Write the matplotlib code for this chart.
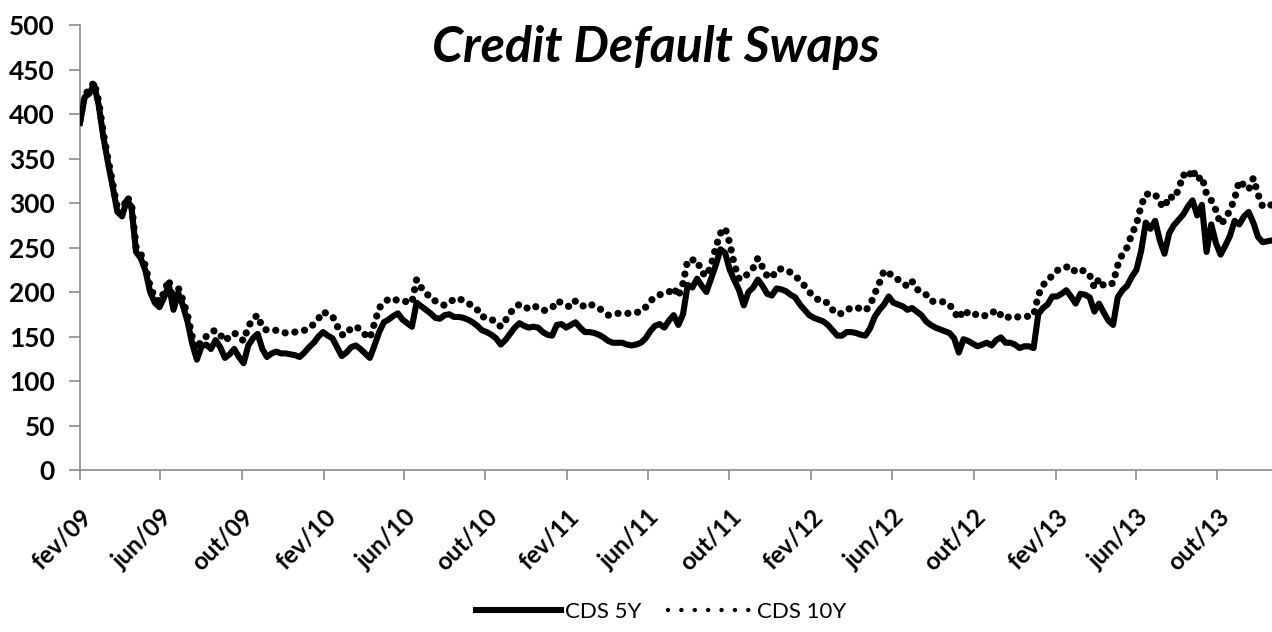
import matplotlib
matplotlib.use("Agg")
import matplotlib.pyplot as plt
import matplotlib.transforms as mtransforms
import pandas as pd
from matplotlib.lines import Line2D

plt.rcParams['font.family'] = ['Lato', 'DejaVu Sans']

title = "Credit Default Swaps"
series_names = ["CDS 5Y", "CDS 10Y"]
start_date = "2009-02-01"
tick_labels = ["fev/09", "jun/09", "out/09", "fev/10", "jun/10", "out/10",
               "fev/11", "jun/11", "out/11", "fev/12", "jun/12", "out/12",
               "fev/13", "jun/13", "out/13"]

# weekly observations starting 2009-02-01
cds5 = [390, 419, 423, 433, 410, 374, 345, 318, 290, 285, 303, 296, 245, 238, 224, 200,
        188, 183, 194, 208, 180, 199, 185, 167, 142, 124, 139, 141, 136, 146, 138, 126,
        130, 136, 127, 120, 140, 148, 153, 136, 127, 131, 133, 131, 131, 130, 129, 127,
        132, 138, 143, 150, 155, 151, 148, 138, 128, 132, 138, 140, 136, 131, 126, 140,
        155, 166, 169, 173, 176, 169, 165, 161, 188, 184, 180, 176, 171, 170, 174, 175,
        172, 172, 171, 169, 166, 162, 157, 155, 152, 148, 141, 146, 153, 160, 165, 162,
        160, 161, 160, 155, 152, 151, 163, 164, 160, 163, 166, 160, 155, 155, 154, 152,
        149, 145, 143, 143, 143, 141, 140, 141, 143, 148, 156, 162, 164, 160, 168, 174,
        163, 175, 208, 205, 215, 207, 200, 215, 230, 248, 244, 225, 213, 202, 185, 200,
        205, 214, 207, 198, 196, 204, 203, 201, 197, 194, 186, 180, 174, 171, 169, 167,
        163, 157, 151, 151, 155, 155, 154, 152, 151, 159, 172, 180, 186, 195, 188, 186,
        184, 180, 182, 178, 174, 167, 163, 160, 158, 156, 154, 148, 132, 147, 145, 142,
        139, 141, 143, 140, 146, 149, 143, 143, 141, 137, 139, 139, 137, 175, 182, 186,
        195, 195, 198, 202, 195, 187, 198, 197, 194, 178, 187, 177, 168, 163, 194, 202,
        207, 217, 225, 246, 278, 271, 280, 258, 243, 266, 275, 281, 287, 296, 303, 286,
        298, 245, 276, 255, 242, 252, 263, 280, 276, 285, 290, 278, 262, 256, 257, 258]

cds10 = [393, 422, 427, 436, 414, 378, 349, 322, 294, 289, 307, 300, 250, 243, 229, 206,
         194, 189, 200, 214, 187, 205, 191, 174, 150, 136, 146, 150, 155, 157, 152, 145,
         150, 154, 150, 145, 161, 170, 174, 160, 157, 157, 157, 155, 154, 155, 155, 156,
         157, 159, 164, 170, 178, 175, 173, 162, 152, 152, 160, 161, 158, 152, 148, 165,
         182, 188, 192, 193, 190, 190, 189, 188, 214, 205, 200, 192, 190, 187, 185, 188,
         192, 193, 190, 187, 185, 180, 172, 172, 169, 167, 161, 168, 176, 183, 186, 182,
         182, 185, 182, 179, 180, 182, 190, 188, 185, 183, 190, 185, 184, 187, 184, 182,
         178, 174, 175, 176, 176, 176, 176, 177, 178, 183, 190, 194, 197, 198, 200, 205,
         195, 210, 236, 236, 236, 222, 218, 230, 250, 266, 272, 255, 230, 215, 215, 222,
         227, 238, 228, 218, 216, 225, 226, 225, 222, 218, 213, 207, 200, 195, 191, 191,
         187, 180, 175, 176, 180, 182, 183, 181, 179, 185, 198, 210, 224, 222, 216, 214,
         211, 206, 212, 203, 201, 197, 190, 189, 189, 189, 186, 178, 170, 180, 176, 173,
         176, 174, 173, 176, 180, 174, 170, 173, 172, 172, 172, 173, 174, 196, 208, 212,
         219, 224, 227, 228, 229, 222, 224, 224, 219, 205, 215, 207, 208, 210, 230, 243,
         250, 265, 276, 297, 310, 310, 310, 300, 295, 308, 305, 315, 332, 328, 338, 326,
         330, 310, 303, 292, 276, 282, 292, 305, 325, 320, 315, 328, 310, 296, 297, 298]

dates = pd.date_range(start_date, periods=len(cds5), freq="7D")
tick_dates = pd.date_range(start_date, periods=len(tick_labels), freq="4MS")

fig = plt.figure(figsize=(12.72, 6.32), dpi=100)
ax = fig.add_axes([0.0629, 0.2563, 0.9371, 0.7041])

ax.plot(dates, cds10, color="black", lw=5.2, dashes=(0.01, 1.35),
        dash_capstyle="round", solid_capstyle="round", zorder=2)
ax.plot(dates, cds5, color="black", lw=4.4, solid_joinstyle="round", zorder=3)

ax.set_ylim(0, 500)
ax.set_xlim(dates[0], dates[-1])
ax.set_yticks(range(0, 501, 50))
ax.set_xticks(tick_dates)
ax.set_xticklabels(tick_labels, rotation=45, ha="right", va="top",
                   rotation_mode="anchor", fontsize=17.5, fontweight="bold")
offset = mtransforms.ScaledTranslation(6 / 100, 0, fig.dpi_scale_trans)
for lab in ax.get_xticklabels():
    lab.set_transform(lab.get_transform() + offset)
for lab in ax.get_yticklabels():
    lab.set_fontsize(19)
    lab.set_fontweight("bold")

for s in ["top", "right"]:
    ax.spines[s].set_visible(False)
for s in ["left", "bottom"]:
    ax.spines[s].set_color("#8c8c8c")
    ax.spines[s].set_linewidth(1.2)
ax.tick_params(axis="y", length=8, width=1.2, color="#8c8c8c", pad=10)
ax.tick_params(axis="x", length=7, width=1.2, color="#8c8c8c", pad=18)

fig.text(0.516, 0.925, title, ha="center", va="center", fontsize=36,
         fontweight="bold", fontstyle="italic")

handles = [Line2D([], [], color="black", lw=4.4),
           Line2D([], [], color="black", lw=3.2, dashes=(0.01, 3.0),
                  dash_capstyle="round")]
fig.legend(handles, series_names, loc="center", bbox_to_anchor=(0.52, 0.032),
           ncol=2, frameon=False, fontsize=16, handlelength=3.8,
           handletextpad=0.2, columnspacing=1.2)

fig.savefig("out.png", dpi=100)
